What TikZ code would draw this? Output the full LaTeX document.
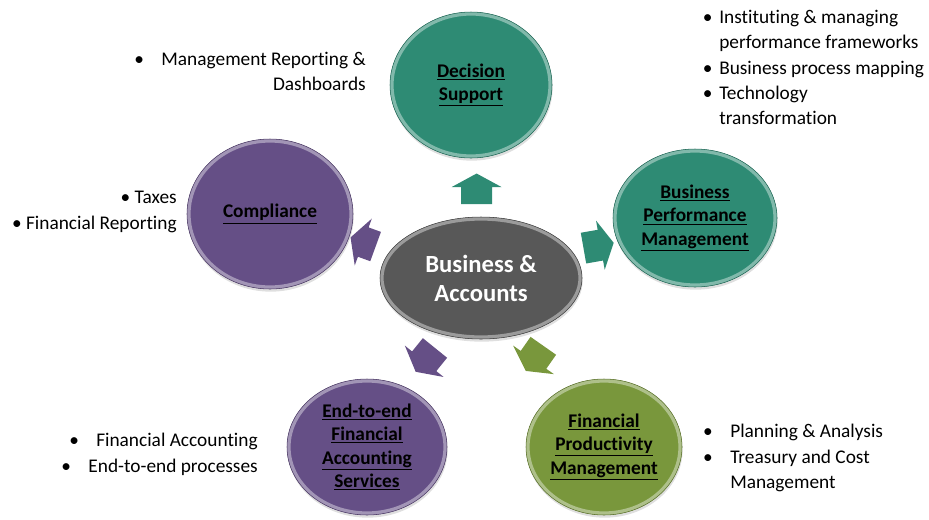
\documentclass[tikz,border=0pt]{standalone}
\usepackage{fontspec}
\setmainfont{Carlito}[Ligatures=NoCommon]
\usetikzlibrary{calc,positioning,shapes.geometric,shapes.arrows,shadows}
\definecolor{dsgreen}{RGB}{46,139,116}
\definecolor{compplum}{RGB}{101,79,134}
\definecolor{fpmolive}{RGB}{121,151,60}
\definecolor{hubgrey}{RGB}{88,88,88}
\tikzset{bubble/.style={ellipse,fill=#1,draw=#1!75!black,line width=.4pt,inner sep=0pt,align=center,
    font=\bfseries\fontsize{14.5}{17.6}\selectfont,
    drop shadow={opacity=.25,shadow xshift=.5pt,shadow yshift=-2pt},
    path picture={\draw[#1!50!white,line width=3pt,opacity=.8]
      let \p1=($(path picture bounding box.north east)-(path picture bounding box.center)$) in
      (path picture bounding box.center) ellipse [x radius=\x1-1.2pt,y radius=\y1-1.2pt];}},
  bubble size/.style 2 args={minimum width=#1*0.75pt,minimum height=#2*0.75pt},
  blockarrow/.style={single arrow,fill=#1,draw=none,inner xsep=0pt,inner ysep=11.5pt,minimum height=23pt,
    single arrow head extend=7pt,single arrow tip angle=123}}

\begin{document}
\begin{tikzpicture}[x=0.75pt,y=-0.75pt,
  notefont/.style={font=\fontsize{14.5}{19}\selectfont,inner sep=0pt}]
\useasboundingbox (0,0) rectangle (929,519);

% Centre and satellites
\node[bubble=hubgrey,bubble size={202}{122},text=white,font=\bfseries\fontsize{18.5}{21.75}\selectfont] (hub) at (481,278) {Business \&\\Accounts};
\node[bubble=dsgreen,bubble size={162}{146}] (ds) at (471,85) {\underline{Decision}\\\underline{Support}};
\node[bubble=dsgreen,bubble size={164}{138}] (bpm) at (695,218) {\underline{Business}\\\underline{Performance}\\\underline{Management}};
\node[bubble=compplum,bubble size={166}{150}] (comp) at (270,214) {\underline{Compliance}};
\node[bubble=compplum,bubble size={160}{136}] (e2e) at (367,447) {\underline{End-to-end}\\\underline{Financial}\\\underline{Accounting}\\\underline{Services}};
\node[bubble=fpmolive,bubble size={156}{136}] (fpm) at (604,447) {\underline{Financial}\\\underline{Productivity}\\\underline{Management}};

% Block arrows
\node[blockarrow=dsgreen,rotate=90] (toDs) at ($(hub)!0.44!(ds)$) {};
\node[blockarrow=dsgreen,rotate=10] (toBpm) at ($(hub)!0.53!(bpm)$) {};
\node[blockarrow=compplum,rotate=160,minimum height=20pt] (toComp) at ($(hub)!0.54!(comp)$) {};
\node[blockarrow=compplum,rotate=-129] (toE2e) at ($(hub)!0.465!(e2e)$) {};
\node[blockarrow=fpmolive,rotate=-125] (toFpm) at ($(hub)!0.455!(fpm)$) {};

% Bullet notes
\node[notefont,align=right,anchor=north east] (dsnote) at (366,52) {\textbullet\hspace{0.9em}Management Reporting \&\\Dashboards};
\node[notefont,align=left,anchor=north west] (bpmnote) at (719,10) {\llap{\textbullet\hspace{0.35em}}Instituting \& managing\\performance frameworks\\\llap{\textbullet\hspace{0.35em}}Business process mapping\\\llap{\textbullet\hspace{0.35em}}Technology\\transformation};
\node[notefont,align=right,anchor=north east] (compnote) at (177,191) {\textbullet\ Taxes\\\textbullet\ Financial Reporting};
\node[notefont,align=right,anchor=north east] (e2enote) at (258,433) {\textbullet\hspace{0.9em}Financial Accounting\\\textbullet\hspace{0.9em}End-to-end processes};
\node[notefont,align=left,anchor=north west] (fpmnote) at (730,424) {\llap{\textbullet\hspace{0.9em}}Planning \& Analysis\\\llap{\textbullet\hspace{0.9em}}Treasury and Cost\\Management};

\end{tikzpicture}
\end{document}
